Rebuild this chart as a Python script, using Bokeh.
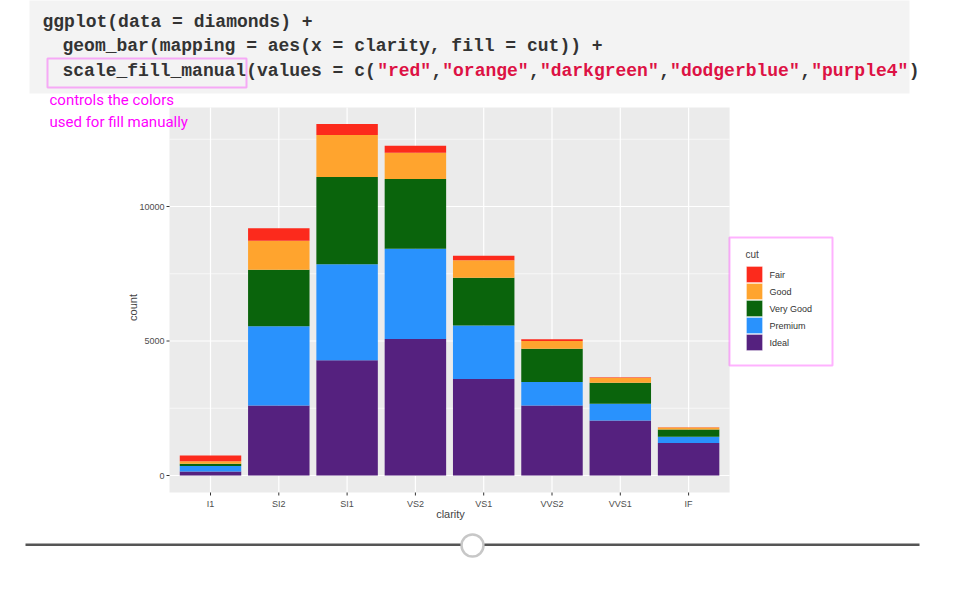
import math
from bokeh.plotting import figure
from bokeh.models import ColumnDataSource, Range1d, Label, BoxAnnotation
from bokeh.core.properties import value
from bokeh.embed import file_html
from bokeh.resources import INLINE

clarity = ["I1", "SI2", "SI1", "VS2", "VS1", "VVS2", "VVS1", "IF"]
cuts = ["Fair", "Good", "Very Good", "Premium", "Ideal"]
fair = [210, 466, 408, 261, 170, 69, 17, 9]
good = [96, 1081, 1560, 978, 648, 286, 186, 71]
very_good = [84, 2100, 3240, 2591, 1775, 1235, 789, 268]
premium = [205, 2949, 3575, 3357, 1989, 870, 616, 230]
ideal = [146, 2598, 4282, 5071, 3589, 2606, 2047, 1212]
colors = ["#fc2a1c", "#ffa42e", "#0a640c", "#2992fd", "#55217f"]
y_ticks = [0, 5000, 10000]
y_minor = [2500, 7500, 12500]

# the frame covers the whole canvas; the ggplot panel sits inside it
PX_X = 68.3      # pixels per category
PX_Y = 0.0269    # pixels per count
X0_PAGE, Y0_PAGE = 218, 483   # page position of (I1, 0)
xlo, xhi = -0.6, len(clarity) - 0.4
ylo, yhi = -632, 13680

def sx(px):
    return px - 8
def sy(py):
    return 592 - py

xs = list(range(len(clarity)))
source = ColumnDataSource(dict(x=xs, fair=fair, good=good, very_good=very_good,
                               premium=premium, ideal=ideal))

p = figure(width=944, height=584,
           x_range=Range1d((8 - X0_PAGE) / PX_X, (952 - X0_PAGE) / PX_X),
           y_range=Range1d((Y0_PAGE - 592) / PX_Y, (Y0_PAGE - 8) / PX_Y),
           output_backend="svg", toolbar_location=None, min_border=0)
p.axis.visible = False
p.grid.visible = False
p.outline_line_color = None
p.background_fill_color = "white"

def sbox(l, r, t, b, **kw):
    p.add_layout(BoxAnnotation(left=sx(l), right=sx(r), top=sy(t), bottom=sy(b),
                               left_units="screen", right_units="screen", top_units="screen",
                               bottom_units="screen", **kw))

# panel + grid
p.add_layout(BoxAnnotation(left=xlo, right=xhi, bottom=ylo, top=yhi, fill_color="#ebebeb",
                           fill_alpha=1, line_color=None, level="underlay"))
p.segment(x0=xs, x1=xs, y0=[ylo] * len(xs), y1=[yhi] * len(xs), line_color="white", line_width=1.2)
p.segment(x0=[xlo] * 3, x1=[xhi] * 3, y0=y_ticks, y1=y_ticks, line_color="white", line_width=1.2)
p.segment(x0=[xlo] * 3, x1=[xhi] * 3, y0=y_minor, y1=y_minor, line_color="white", line_width=0.6)

p.vbar_stack(["ideal", "premium", "very_good", "good", "fair"], x="x", width=0.9,
             color=colors[::-1], source=source, line_color=None)

# axes
tx = 3 / PX_X
ty = 3 / PX_Y
p.segment(x0=[xlo - tx] * 3, x1=[xlo] * 3, y0=y_ticks, y1=y_ticks, line_color="#333333", line_width=1)
p.segment(x0=xs, x1=xs, y0=[ylo - ty] * len(xs), y1=[ylo] * len(xs), line_color="#333333", line_width=1)
p.text(x=[xlo - 5 / PX_X] * 3, y=y_ticks, text=[str(v) for v in y_ticks], text_align="right",
       text_baseline="middle", text_font=value("Liberation Sans"), text_font_size="9px",
       text_color="#4d4d4d")
p.text(x=xs, y=[ylo - 6 / PX_Y] * len(xs), text=clarity, text_align="center",
       text_baseline="top", text_font=value("Liberation Sans"), text_font_size="9px",
       text_color="#4d4d4d")
p.add_layout(Label(x=sx(140), y=sy(315), x_units="screen", y_units="screen", text="count",
                   angle=math.pi / 2, text_align="center", text_baseline="middle",
                   text_font="Liberation Sans", text_font_size="11px"))
p.add_layout(Label(x=sx(458), y=sy(521), x_units="screen", y_units="screen", text="clarity",
                   text_align="center", text_baseline="middle",
                   text_font="Liberation Sans", text_font_size="11px"))

# code block
sbox(37, 917, 4, 101, fill_color="#f3f3f3", fill_alpha=1, line_color=None, level="underlay")
CW = 10.85
code_lines = [
    (50, 29, [("ggplot(data = diamonds) +", "#333333")]),
    (70, 53, [("geom_bar(mapping = aes(x = clarity, fill = cut)) +", "#333333")]),
    (70, 78, [("scale_fill_manual(values = c(", "#333333"), ('"red"', "#dd1144"), (",", "#333333"),
              ('"orange"', "#dd1144"), (",", "#333333"), ('"darkgreen"', "#dd1144"), (",", "#333333"),
              ('"dodgerblue"', "#dd1144"), (",", "#333333"), ('"purple4"', "#dd1144"), (")", "#333333")]),
]
for x0, y0, parts in code_lines:
    n = 0
    for txt, col in parts:
        p.add_layout(Label(x=sx(x0 + n * CW), y=sy(y0), x_units="screen", y_units="screen", text=txt,
                           text_font="Liberation Mono", text_font_style="bold", text_font_size="18px",
                           text_color=col, text_baseline="middle"))
        n += len(txt)

MAG = "#ff00ff"
sbox(55, 254, 66, 95, fill_alpha=0, line_color=MAG, line_width=2)
for i, t in enumerate(["controls the colors", "used for fill manually"]):
    p.add_layout(Label(x=sx(57), y=sy(107 + 22 * i), x_units="screen", y_units="screen", text=t,
                       text_font="Roboto", text_font_size="15px", text_color=MAG,
                       text_baseline="middle"))

# legend
sbox(737, 840, 245, 373, fill_alpha=0, line_color=MAG, line_width=2)
p.add_layout(Label(x=sx(753), y=sy(262), x_units="screen", y_units="screen", text="cut",
                   text_font="Liberation Sans", text_font_size="10px", text_baseline="middle"))
for i, (c, col) in enumerate(zip(cuts, colors)):
    yc = 282 + 17 * i
    sbox(754, 770, yc - 8, yc + 8, fill_color=col, fill_alpha=1, line_color="white", line_width=1)
    p.add_layout(Label(x=sx(777), y=sy(yc), x_units="screen", y_units="screen", text=c,
                       text_font="Liberation Sans", text_font_size="9px", text_color="#333333",
                       text_baseline="middle"))

# slider
for l, r in [(33, 468), (492, 927)]:
    sbox(l, r, 551, 553.5, fill_color="#555555", fill_alpha=1, line_color=None)
sbox(469, 491, 542, 564, fill_color="white", fill_alpha=1, line_color="#444444",
     line_width=2.5, border_radius=11)

open("out.html", "w").write(file_html(p, INLINE))
